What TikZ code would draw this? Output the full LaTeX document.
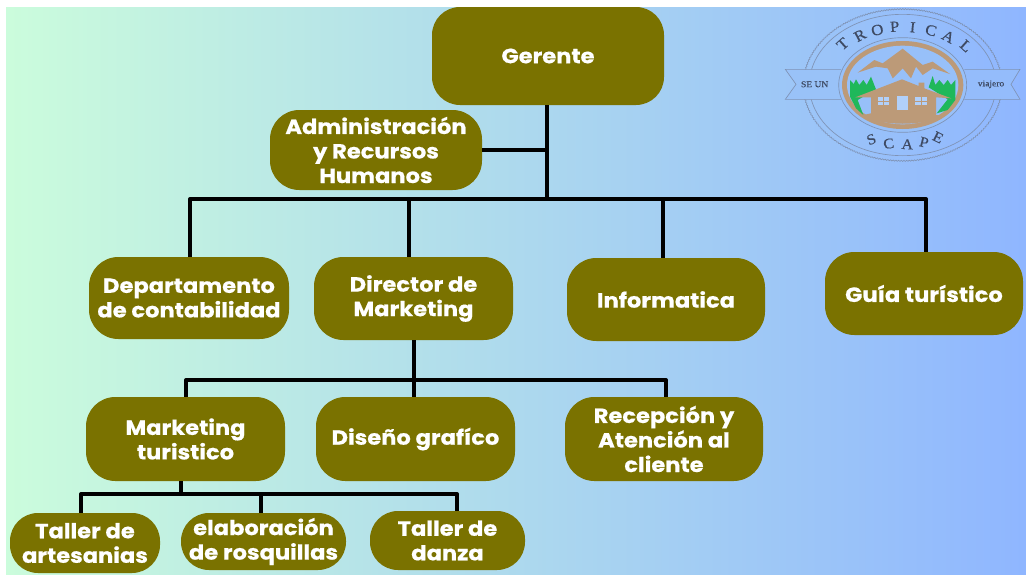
\documentclass[tikz,border=0pt]{standalone}
\usepackage{fontspec}
\usetikzlibrary{decorations.pathmorphing}
\setmainfont{Poppins}[BoldFont={Poppins Bold},BoldFeatures={FakeStretch=1.1,FakeBold=0.6}]
\newfontfamily\logofont{Liberation Serif}[FakeStretch=1.1,FakeBold=0.4]
\definecolor{olive1}{HTML}{7A7200}
\definecolor{bgL}{HTML}{CBFCDC}
\definecolor{bgM}{HTML}{B0DEE6}
\definecolor{bgR}{HTML}{8FB6FF}
\definecolor{tan1}{HTML}{BC9A78}
\definecolor{grn1}{HTML}{1FB85A}
\definecolor{logoline}{HTML}{7F93B5}
\definecolor{logodark}{HTML}{3E4A63}
\tikzset{
  box/.style={draw=none,fill=olive1,rounded corners=#1,text=white,align=center,
    font=\fontsize{15.4}{18.4}\selectfont\bfseries,inner sep=0pt},
  box/.default=22pt,
  conn/.style={draw=black,line width=3pt},
  llet/.style={text=logodark,font=\logofont\fontsize{11.5}{11.5}\selectfont,inner sep=0pt},
  lline/.style={draw=logoline,line width=0.5pt},
}
\begin{document}
\begin{tikzpicture}[x=0.75pt,y=-0.75pt]
\useasboundingbox (0,0) rectangle (1026,575);
\fill[white] (0,0) rectangle (1026,575);
\shade[left color=bgL,middle color=bgM,right color=bgR] (6,7) rectangle (1026,574);

% nodes
\node[box=21pt,minimum width=174pt,minimum height=73.5pt] (ger) at (548,56) {\raisebox{-0.8pt}{Gerente}};
\node[box,minimum width=159pt,minimum height=60pt] (adm) at (376,150) {Administración\\y Recursos\\Humanos};
\node[box,minimum width=150pt,minimum height=61.5pt] (dep) at (189,298) {Departamento\\de contabilidad};
\node[box,minimum width=149.25pt,minimum height=62.25pt] (dir) at (413.5,298.5) {Director de\\Marketing};
\node[box,minimum width=148.5pt,minimum height=62.25pt] (inf) at (666,299.5) {Informatica};
\node[box,minimum width=148.5pt,minimum height=62.25pt] (gui) at (924,293.5) {\raisebox{-0.8pt}{Guía turístico}};
\node[box,minimum width=149.25pt,minimum height=63pt] (mkt) at (185.5,439) {Marketing\\turistico};
\node[box,minimum width=149.25pt,minimum height=63pt] (dis) at (415.5,439) {Diseño grafíco};
\node[box,minimum width=148.5pt,minimum height=63pt] (rec) at (664,439) {Recepción y\\Atención al\\cliente};
\node[box=21pt,minimum width=112.5pt,minimum height=45pt] (tar) at (85,543) {Taller de\\artesanias};
\node[box=21pt,minimum width=123.75pt,minimum height=42.75pt] (ela) at (263.5,541.5) {\raisebox{-2.2pt}{elaboración}\\\raisebox{-2.2pt}{de rosquillas}};
\node[box=21pt,minimum width=116.25pt,minimum height=44.25pt] (tad) at (447.5,540.5) {Taller de\\danza};

% connectors
\coordinate (busA) at (547,199);
\coordinate (busL) at (190,199);
\coordinate (busB) at (409,199);
\coordinate (busC) at (663,199);
\coordinate (busR) at (926,199);
\draw[conn] (ger.south -| busA) -- (busA);
\draw[conn] (adm.east) -- (adm.east -| busA);
\draw[conn,line cap=round] (busL) -- (busR);
\draw[conn] (busL) -- (busL |- dep.north);
\draw[conn] (busB) -- (busB |- dir.north);
\draw[conn] (busC) -- (busC |- inf.north);
\draw[conn] (busR) -- (busR |- gui.north);

\coordinate (bus2L) at (186,380);
\coordinate (bus2B) at (414,380);
\coordinate (bus2R) at (666,380);
\draw[conn] (dir.south -| bus2B) -- (bus2B);
\draw[conn,line cap=round] (bus2L) -- (bus2R);
\draw[conn] (bus2L) -- (bus2L |- mkt.north);
\draw[conn] (bus2B) -- (bus2B |- dis.north);
\draw[conn] (bus2R) -- (bus2R |- rec.north);

\coordinate (bus3L) at (81,494);
\coordinate (bus3A) at (181,494);
\coordinate (bus3B) at (261,494);
\coordinate (bus3R) at (457,494);
\draw[conn] (mkt.south -| bus3A) -- (bus3A);
\draw[conn,line cap=round] (bus3L) -- (bus3R);
\draw[conn] (bus3L) -- (bus3L |- tar.north);
\draw[conn] (bus3B) -- (bus3B |- ela.north);
\draw[conn] (bus3R) -- (bus3R |- tad.north);

% logo (coordinates in thirds of a pixel, from its corner)
\begin{scope}[shift={(776,0)},x=0.25pt,y=-0.25pt]
  % scalloped outer ring
  \draw[lline,line width=0.5pt,decorate,decoration={bumps,segment length=4pt,amplitude=0.8pt}] (380,255) ellipse [x radius=296,y radius=226];
  \draw[lline] (380,255) ellipse [x radius=280,y radius=212];
  % ribbons
  \draw[lline,fill=bgM!30!bgR] (195,208) -- (28,208) -- (60,253) -- (28,298) -- (195,298);
  \draw[lline,fill=bgM!15!bgR] (565,208) -- (732,208) -- (705,253) -- (732,298) -- (565,298);
  \node[llet,font=\logofont\fontsize{6.5}{6.5}\selectfont] (seun) at (116,253) {SE UN};
  \node[llet,font=\logofont\fontsize{6.5}{6.5}\selectfont] (viaj) at (645,253) {viajero};
  % medallion
  \draw[lline,fill=bgM!25!bgR] (380,255) ellipse [x radius=192,y radius=142];
  \fill[tan1] (380,255) ellipse [x radius=182,y radius=132];
  \fill[bgM!25!bgR] (380,255) ellipse [x radius=167,y radius=118];
  % mountains
  \fill[tan1] (245,218) -- (295,180) -- (320,190) -- (380,146) -- (440,195) -- (470,185) -- (522,222)
     -- (470,205) -- (440,225) -- (420,200) -- (405,235) -- (380,205) -- (350,235) -- (335,205) -- (300,200) -- cycle;
  % trees
  \fill[grn1] (222,290) -- (222,240) -- (233,252) -- (240,238) -- (250,255) -- (262,240) -- (272,255) -- (285,230) -- (300,268) -- (245,300) -- (262,345) -- (240,325) -- cycle;
  \fill[grn1] (538,300) -- (538,240) -- (525,255) -- (515,240) -- (503,255) -- (490,240) -- (478,255) -- (470,228) -- (458,262) -- (515,298) -- (482,340) -- (515,330) -- cycle;
  % house
  \fill[tan1] (238,292) -- (378,238) -- (428,258) -- (428,248) -- (445,248) -- (445,265) -- (526,295) -- (480,292) -- (480,345) -- (500,345)
     .. controls (450,380) and (310,380) .. (262,345) -- (285,340) -- (285,292) -- cycle;
  \fill[bgM!25!bgR!75!white] (362,288) rectangle (396,330);
  \fill[bgM!25!bgR!75!white] (306,290) rectangle (340,316);
  \fill[bgM!25!bgR!75!white] (418,290) rectangle (452,316);
  \draw[tan1,line width=0.5pt] (323,290) -- (323,316) (306,303) -- (340,303) (435,290) -- (435,316) (418,303) -- (452,303);
  % lettering
  \foreach \c/\x/\y/\r in {T/200/132/42,R/252/106/28,O/304/90/14,P/356/80/4,I/410/82/-6,C/465/91/-16,A/517/110/-28,L/570/138/-42}
    \node[llet,rotate=\r] at (\x,\y) {\c};
  \foreach \c/\x/\y/\r in {S/286/418/22,C/338/431/8,A/394/433/-3,P/444/427/-14,E/486/412/-26}
    \node[llet,font=\logofont\fontsize{11}{11}\selectfont,rotate=\r] at (\x,\y) {\c};
\end{scope}
\end{tikzpicture}
\end{document}
